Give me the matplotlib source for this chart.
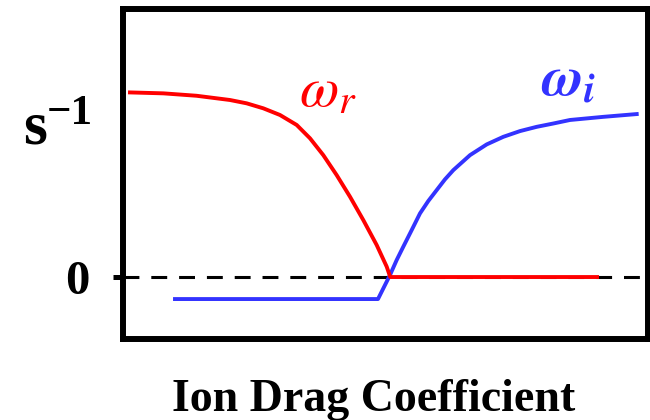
import matplotlib
matplotlib.use("Agg")
import matplotlib.pyplot as plt

plt.rcParams["mathtext.fontset"] = "stix"

# values (arbitrary units, x = ion drag coefficient)
red_x = [0.133, 0.768, 1.400, 2.038, 2.356, 2.673, 2.990, 3.309, 3.562, 3.815,
         4.070, 4.324, 4.577, 4.832, 5.023, 5.090, 9.030]
red_y = [0.998, 0.993, 0.980, 0.957, 0.939, 0.912, 0.876, 0.822, 0.750, 0.659,
         0.551, 0.434, 0.308, 0.173, 0.056, 0.0, 0.0]

blue_x = [0.99, 4.857, 5.086, 5.213, 5.339, 5.499, 5.657, 5.815, 5.975, 6.133,
          6.292, 6.610, 6.928, 7.244, 7.562, 7.880, 8.197, 8.514, 9.149, 9.785]
blue_y = [-0.119, -0.119, 0.011, 0.092, 0.164, 0.254, 0.344, 0.411, 0.470, 0.528,
          0.578, 0.659, 0.717, 0.758, 0.789, 0.812, 0.830, 0.849, 0.866, 0.881]

RED = "#ff0000"
BLUE = "#3333ff"
SERIF = "Liberation Serif"

W, H = 650, 420
fig = plt.figure(figsize=(6.5, 4.2), dpi=100)
ax = fig.add_axes([123 / W, 1 - 339 / H, 525 / W, 330 / H])

ax.axhline(0, color="black", lw=2.2, dashes=(5.2, 3.9), zorder=1)
ax.plot(red_x, red_y, color=RED, lw=2.8, zorder=3, solid_joinstyle="round")
ax.plot(blue_x, blue_y, color=BLUE, lw=2.8, zorder=2, solid_joinstyle="round")

ax.set_xlim(0, 10)
ax.set_ylim(-0.335, 1.449)
ax.set_xticks([])
ax.set_yticks([0])
ax.set_yticklabels(["0"], fontfamily=SERIF, fontweight="bold", fontsize=35)
ax.tick_params(axis="y", length=7.2, width=3.6, pad=17)
for sp in ax.spines.values():
    sp.set_linewidth(4.3)


def ftext(px, py, s, **kw):
    fig.text(px / W, 1 - py / H, s, fontfamily=SERIF, va="baseline", **kw)


# y unit label  s^-1
ftext(23, 143, "s", fontsize=44, fontweight="bold")
ftext(47, 124, "\u22121", fontsize=31, fontweight="bold")

# curve labels
ftext(299, 107, r"$\omega_r$", fontsize=41, color=RED)
ftext(541, 95, r"$\boldsymbol{\omega}_{\boldsymbol{i}}$", fontsize=41, color=BLUE)

ftext(374, 411, "Ion Drag Coefficient", fontsize=33, fontweight="bold", ha="center")

fig.savefig("out.png", dpi=100)
